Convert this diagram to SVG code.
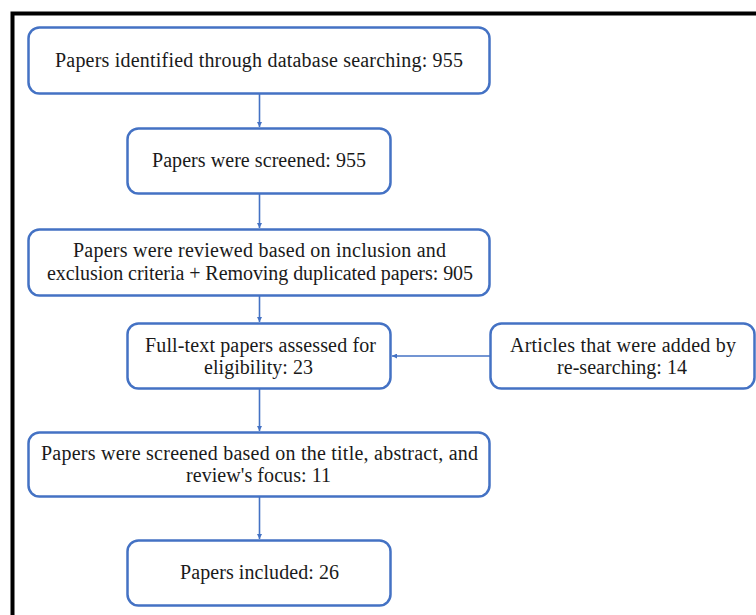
<svg xmlns="http://www.w3.org/2000/svg" width="756" height="615" viewBox="0 0 756 615">
<defs>
<style>
.box{fill:#fff;stroke:#4472C4;stroke-width:2.5}
.t{font-family:"Liberation Serif","DejaVu Serif",serif;font-size:20px;fill:#1a1a1a;text-anchor:middle}
.c{stroke:#4472C4;stroke-width:1.6;fill:none}
</style>
<marker id="ah" viewBox="0 0 10 10" refX="10" refY="5" markerWidth="5" markerHeight="5" orient="auto" markerUnits="userSpaceOnUse">
<path d="M0,0 L10,5 L0,10 z" fill="#4472C4"/>
</marker>
</defs>
<rect x="0" y="0" width="756" height="615" fill="#fff"/>
<rect x="12.5" y="13.5" width="760" height="620" fill="none" stroke="#000" stroke-width="4"/>
<g id="connectors">
<line class="c" x1="259.5" y1="94" x2="259.5" y2="127" marker-end="url(#ah)"/>
<line class="c" x1="259.5" y1="194" x2="259.5" y2="228" marker-end="url(#ah)"/>
<line class="c" x1="259.5" y1="296" x2="259.5" y2="322" marker-end="url(#ah)"/>
<line class="c" x1="259.5" y1="389" x2="259.5" y2="431" marker-end="url(#ah)"/>
<line class="c" x1="259.5" y1="497" x2="259.5" y2="539" marker-end="url(#ah)"/>
<line class="c" x1="490" y1="356" x2="392" y2="356" marker-end="url(#ah)"/>
</g>
<g id="n1"><rect class="box" x="28.5" y="27.5" width="461" height="66" rx="11"/>
<text class="t" x="259" y="67" textLength="408" lengthAdjust="spacing">Papers identified through database searching: 955</text></g>
<g id="n2"><rect class="box" x="127.5" y="128.5" width="263" height="65" rx="11"/>
<text class="t" x="259" y="167" textLength="214" lengthAdjust="spacing">Papers were screened: 955</text></g>
<g id="n3"><rect class="box" x="28.5" y="229.5" width="461" height="66" rx="11"/>
<text class="t" x="259.5" y="257" textLength="373" lengthAdjust="spacing">Papers were reviewed based on inclusion and</text>
<text class="t" x="260" y="280" textLength="426" lengthAdjust="spacing">exclusion criteria + Removing duplicated papers: 905</text></g>
<g id="n4"><rect class="box" x="127.5" y="323.5" width="263" height="65" rx="11"/>
<text class="t" x="260.5" y="351.5" textLength="231" lengthAdjust="spacing">Full-text papers assessed for</text>
<text class="t" x="258.5" y="374" textLength="109" lengthAdjust="spacing">eligibility: 23</text></g>
<g id="n5"><rect class="box" x="490.5" y="323.5" width="264" height="65" rx="11"/>
<text class="t" x="623" y="351.5" textLength="226" lengthAdjust="spacing">Articles that were added by</text>
<text class="t" x="622" y="374" textLength="130" lengthAdjust="spacing">re-searching: 14</text></g>
<g id="n6"><rect class="box" x="28.5" y="432.5" width="461" height="64" rx="11"/>
<text class="t" x="259.5" y="460" textLength="437" lengthAdjust="spacing">Papers were screened based on the title, abstract, and</text>
<text class="t" x="258.5" y="482" textLength="145" lengthAdjust="spacing">review's focus: 11</text></g>
<g id="n7"><rect class="box" x="127.5" y="540.5" width="263" height="65" rx="11"/>
<text class="t" x="259.5" y="579" textLength="159" lengthAdjust="spacing">Papers included: 26</text></g>
</svg>
